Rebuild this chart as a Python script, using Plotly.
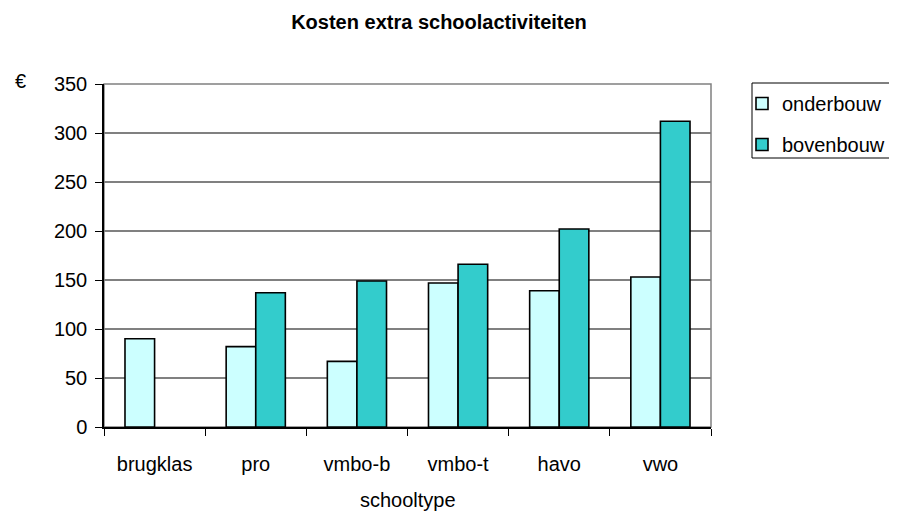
import plotly.graph_objects as go

schooltypes = ['brugklas', 'pro', 'vmbo-b', 'vmbo-t', 'havo', 'vwo']
onderbouw = [90, 82, 67, 147, 139, 153]
bovenbouw = [None, 137, 149, 166, 202, 312]
y_ticks = [0, 50, 100, 150, 200, 250, 300, 350]

# page body has an 8px margin, so the figure is drawn a bit smaller
W, H = 889, 503
L, R, T, B = 96, 186, 76, 84
PW, PH = W - L - R, H - T - B
font_main = 'Liberation Sans, Arial, sans-serif'


def px_x(x):
    return (x - L) / PW


def px_y(y):
    return (H - B - y) / PH


fig = go.Figure()
fig.add_trace(go.Bar(
    x=schooltypes, y=onderbouw, name='onderbouw', legendgroup='o',
    marker=dict(color='#CCFFFF', line=dict(color='#000000', width=1.6)),
))
fig.add_trace(go.Bar(
    x=schooltypes, y=bovenbouw, name='bovenbouw', legendgroup='b',
    marker=dict(color='#33CCCC', line=dict(color='#000000', width=1.6)),
))

# grey plot-area border (Excel style)
fig.add_shape(type='rect', xref='paper', yref='paper', x0=0, y0=0, x1=1, y1=1,
              line=dict(color='#808080', width=1.5), layer='below')
# legend frame, running off the right edge like the original
fig.add_shape(type='rect', xref='paper', yref='paper',
              x0=px_x(744), x1=px_x(905), y0=px_y(150), y1=px_y(75),
              line=dict(color='#000000', width=1), fillcolor='rgba(0,0,0,0)')

fig.update_layout(
    width=W, height=H,
    paper_bgcolor='white', plot_bgcolor='white',
    margin=dict(l=L, r=R, t=T, b=B, autoexpand=False),
    font=dict(family=font_main, size=20, color='#000000'),
    barmode='group', bargap=0.415, bargroupgap=0,
    title=dict(text='<b>Kosten extra schoolactiviteiten</b>', x=431 / W, xanchor='center',
               y=1 - 14 / H, yanchor='middle', font=dict(size=20)),
    showlegend=True,
    legend=dict(x=px_x(734), xanchor='left', y=px_y(76), yanchor='top',
                borderwidth=0, bgcolor='rgba(0,0,0,0)',
                traceorder='grouped', tracegroupgap=12, font=dict(size=20),
                itemwidth=30),
    xaxis=dict(
        showline=True, linecolor='#000000', linewidth=1.5,
        ticks='outside', tickson='boundaries', ticklen=7, tickcolor='#000000',
        ticklabelstandoff=18, showgrid=False,
    ),
    yaxis=dict(
        range=[0, 350], tickvals=y_ticks,
        showline=True, linecolor='#000000', linewidth=1.5,
        ticks='outside', ticklen=7, tickcolor='#000000', ticklabelstandoff=4,
        showgrid=True, gridcolor='#808080', gridwidth=1.5, zeroline=False,
    ),
    annotations=[
        dict(text='€', xref='paper', yref='paper', x=px_x(12), y=px_y(73),
             xanchor='center', yanchor='middle', showarrow=False, font=dict(size=20)),
        dict(text='schooltype', xref='paper', yref='paper', x=0.5, y=px_y(492),
             xanchor='center', yanchor='middle', showarrow=False, font=dict(size=20)),
    ],
)

fig.write_html("out.html")
